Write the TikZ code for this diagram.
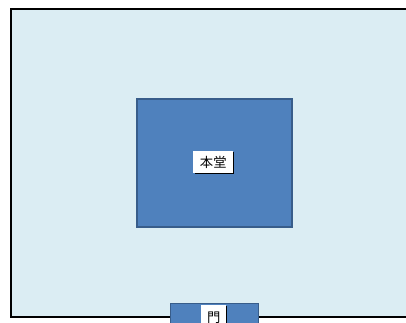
\documentclass[tikz,border=0pt]{standalone}
\usepackage{fontspec}
\newfontfamily\cjk{Noto Sans CJK JP}
\definecolor{ground}{HTML}{DBEDF3}
\definecolor{hall}{HTML}{4F81BD}
\definecolor{hallline}{HTML}{385D8A}
\tikzset{
  bldg/.style={fill=hall, draw=hallline, line width=1.2pt},
  tag/.style={fill=white, inner sep=0pt, font=\cjk\fontsize{10}{11}\selectfont, anchor=north west},
}
\begin{document}
\begin{tikzpicture}[x=0.75pt,y=-0.75pt]
\useasboundingbox (0,0) rectangle (406,322);
\clip (0,0) rectangle (406,322);
\fill[white] (0,0) rectangle (406,322);
\draw[fill=ground, draw=black, line width=1.2pt] (11,9) rectangle (420,317);
\node[bldg, minimum width=155*0.75pt, minimum height=128*0.75pt, anchor=north west] (hondo) at (136,98) {};
\fill[black] (194.5,152) rectangle (234,174);
\node[tag, minimum width=40*0.75pt, minimum height=21.5*0.75pt] (hondolabel) at (193,151) {本堂};
\node[bldg, minimum width=88*0.75pt, minimum height=30*0.75pt, anchor=north west] (mon) at (169.5,302.5) {};
\fill[black] (203,306) rectangle (227,330);
\node[tag, minimum width=25*0.75pt, minimum height=24*0.75pt] (monlabel) at (201,305) {\raisebox{-4pt}{門}};
\end{tikzpicture}
\end{document}
